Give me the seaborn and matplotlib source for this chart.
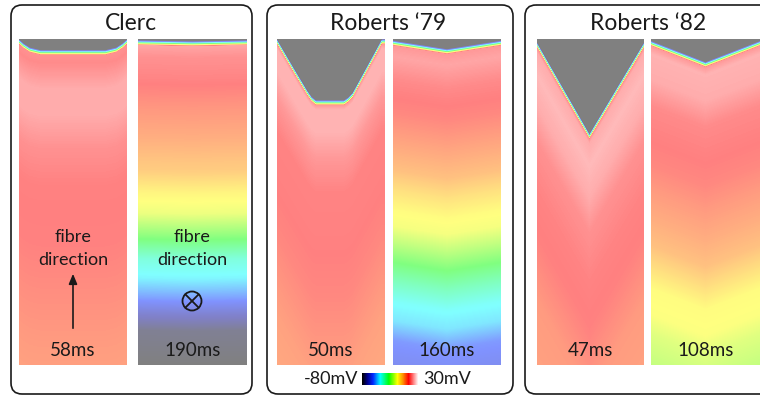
import numpy as np
import matplotlib
matplotlib.use("Agg")
import matplotlib.pyplot as plt
import seaborn as sns
from matplotlib.colors import LinearSegmentedColormap
from matplotlib.patches import FancyBboxPatch, Circle

# ---------------- data ----------------
TITLES = ["Clerc", "Roberts \u201879", "Roberts \u201882"]
TIME_LABELS = ["58ms", "190ms", "50ms", "160ms", "47ms", "108ms"]
V_MIN, V_MAX = -80, 30          # colour scale, mV
CBAR_LABELS = ["-80mV", "30mV"]

# activation front: depth (fraction of panel height) across the panel width
clerc58_front_x = [0.0, 0.04, 0.10, 0.20, 0.80, 0.90, 0.96, 1.0]
clerc58_front_d = [0.0, 0.012, 0.025, 0.033, 0.033, 0.025, 0.012, 0.0]
clerc190_front_x = [0.0, 0.5, 1.0]
clerc190_front_d = [0.003, 0.006, 0.003]
rob79_50_front_x = [0.0, 0.15, 0.28, 0.32, 0.36, 0.62, 0.66, 0.70, 0.85, 0.97, 1.0]
rob79_50_front_d = [0.0, 0.085, 0.157, 0.176, 0.187, 0.187, 0.178, 0.164, 0.073, 0.0, 0.0]
rob79_160_front_x = [0.0, 0.5, 1.0]
rob79_160_front_d = [0.004, 0.03, 0.004]
rob82_47_front_x = [0.0, 0.49, 1.0]
rob82_47_front_d = [0.01, 0.29, 0.01]
rob82_108_front_x = [0.0, 0.5, 1.0]
rob82_108_front_d = [0.005, 0.07, 0.005]

# membrane potential (mV) versus distance behind the front (fraction of height)
clerc58_prof_d = [0, 0.006, 0.016, 0.04, 0.12, 0.20, 0.30, 0.42, 0.60, 0.75, 0.90, 1.0]
clerc58_prof_v = [-80, -45, 15, 14, 19, 19, 15, 12.5, 12, 10, 8, 7]
clerc190_prof_d = [0, 0.006, 0.016, 0.05, 0.12, 0.20, 0.30, 0.40, 0.47, 0.53, 0.60, 0.67, 0.73, 0.79, 0.84, 0.89, 1.0]
clerc190_prof_v = [-80, -45, 18, 15, 13, 9, 5, 0, -8, -12, -25, -40, -46, -57, -68, -77, -80]
rob79_50_prof_d = [0, 0.006, 0.016, 0.03, 0.10, 0.18, 0.28, 0.45, 0.60, 0.72, 0.85, 1.0]
rob79_50_prof_v = [-80, -45, 16, 20, 20, 16, 13, 12.5, 11, 9, 7, 6]
rob79_160_prof_d = [0, 0.006, 0.016, 0.05, 0.12, 0.22, 0.32, 0.40, 0.46, 0.52, 0.57, 0.62, 0.68, 0.74, 0.80, 0.86, 0.92, 1.0]
rob79_160_prof_v = [-80, -45, 16, 18, 14, 11, 6, 2, -4, -9, -11, -18, -27, -36, -44, -48, -58, -62]
rob82_47_prof_d = [0, 0.006, 0.016, 0.03, 0.10, 0.20, 0.30, 0.45, 0.60, 0.70, 0.80, 1.0]
rob82_47_prof_v = [-80, -45, 15, 19, 21, 19, 15, 13, 12, 10, 8, 7]
rob82_108_prof_d = [0, 0.006, 0.016, 0.04, 0.12, 0.20, 0.30, 0.38, 0.46, 0.55, 0.63, 0.70, 0.76, 0.84, 0.90, 1.0]
rob82_108_prof_v = [-80, -45, 16, 20, 19, 14, 12.5, 11, 8, 5, 2, -4, -9, -10, -14, -18]

# ---------------- styling ----------------
sns.set_style("white")
plt.rcParams["font.family"] = ["Lato", "DejaVu Sans"]
TXT = "#1a1a1a"

W, H = 760, 397
fig = plt.figure(figsize=(W / 100, H / 100), dpi=100)
fig.patch.set_facecolor("white")

stops = [
    (0.00, (0.0, 0.0, 0.0)),
    (0.09, (0.0, 0.0, 0.55)),
    (0.19, (0.0, 0.15, 1.0)),
    (0.32, (0.0, 1.0, 1.0)),
    (0.48, (0.0, 1.0, 0.0)),
    (0.64, (1.0, 1.0, 0.0)),
    (0.74, (1.0, 0.55, 0.0)),
    (0.84, (1.0, 0.0, 0.0)),
    (1.00, (1.0, 0.92, 0.92)),
]
cmap_full = LinearSegmentedColormap.from_list("vm", stops, N=512)
cmap_soft = LinearSegmentedColormap.from_list(
    "vm_soft", [(p, tuple(0.5 * c + 0.5 for c in col)) for p, col in stops], N=512)

panels = [
    (19, 127, clerc58_front_x, clerc58_front_d, clerc58_prof_d, clerc58_prof_v),
    (138, 247, clerc190_front_x, clerc190_front_d, clerc190_prof_d, clerc190_prof_v),
    (277, 385, rob79_50_front_x, rob79_50_front_d, rob79_50_prof_d, rob79_50_prof_v),
    (393, 501, rob79_160_front_x, rob79_160_front_d, rob79_160_prof_d, rob79_160_prof_v),
    (537, 644, rob82_47_front_x, rob82_47_front_d, rob82_47_prof_d, rob82_47_prof_v),
    (651, 760, rob82_108_front_x, rob82_108_front_d, rob82_108_prof_d, rob82_108_prof_v),
]
PY0, PY1 = 39, 365


def build_field(fx, fd, pd_, pv, h, w):
    ys = (np.arange(h) + 0.5) / h
    xs = (np.arange(w) + 0.5) / w
    fr = np.interp(xs, fx, fd)
    d = ys[:, None] - fr[None, :]
    v = np.interp(d, pd_, pv)
    v[d < 0] = V_MIN
    return v


for (x0, x1, fx, fd, pd_, pv) in panels:
    w, h = x1 - x0, PY1 - PY0
    ax = fig.add_axes([x0 / W, 1 - PY1 / H, w / W, h / H])
    field = build_field(fx, fd, pd_, pv, h, w)
    sns.heatmap(field, ax=ax, cmap=cmap_soft, vmin=V_MIN, vmax=V_MAX, cbar=False,
                xticklabels=False, yticklabels=False, linewidths=0)
    ax.axis("off")

# colour bar
cax = fig.add_axes([362 / W, 1 - 385 / H, 56 / W, 12 / H])
ramp = np.linspace(V_MIN, V_MAX, 112)[None, :]
sns.heatmap(ramp, ax=cax, cmap=cmap_full, vmin=V_MIN, vmax=V_MAX, cbar=False,
            xticklabels=False, yticklabels=False, linewidths=0)
cax.axis("off")

# overlay for boxes and text (pixel coordinates)
ov = fig.add_axes([0, 0, 1, 1])
ov.set_xlim(0, W)
ov.set_ylim(H, 0)
ov.axis("off")
ov.patch.set_alpha(0)

boxes = [(11, 5, 241, 389), (267, 5, 246, 389), (525, 5, 260, 389)]
for (x, y, w, h) in boxes:
    ov.add_patch(FancyBboxPatch((x, y), w, h, boxstyle="round,pad=0,rounding_size=11",
                                fc="none", ec=TXT, lw=1.2))
title_x = [131, 388, 648]
for t, tx in zip(TITLES, title_x):
    ov.text(tx, 23, t, ha="center", va="center", fontsize=16.5, color=TXT)

for (x0, x1, *_), lab in zip(panels, TIME_LABELS):
    ov.text((x0 + x1) / 2, 351, lab, ha="center", va="center", fontsize=13.5, color=TXT)

for cx in (73, 192):
    ov.text(cx, 237, "fibre", ha="center", va="center", fontsize=13, color=TXT)
    ov.text(cx, 260, "direction", ha="center", va="center", fontsize=13, color=TXT)
ov.annotate("", xy=(73, 271), xytext=(73, 331),
            arrowprops=dict(arrowstyle="-|>,head_length=0.6,head_width=0.25", color=TXT, lw=1.2))
ov.add_patch(Circle((192, 301), 9.5, fc="none", ec=TXT, lw=1.3))
r = 9.5 / np.sqrt(2)
ov.plot([192 - r, 192 + r], [301 - r, 301 + r], color=TXT, lw=1.3)
ov.plot([192 - r, 192 + r], [301 + r, 301 - r], color=TXT, lw=1.3)

ov.text(358, 379, CBAR_LABELS[0], ha="right", va="center", fontsize=13, color=TXT)
ov.text(423, 379, CBAR_LABELS[1], ha="left", va="center", fontsize=13, color=TXT)

fig.savefig("out.png", dpi=100, facecolor="white")
